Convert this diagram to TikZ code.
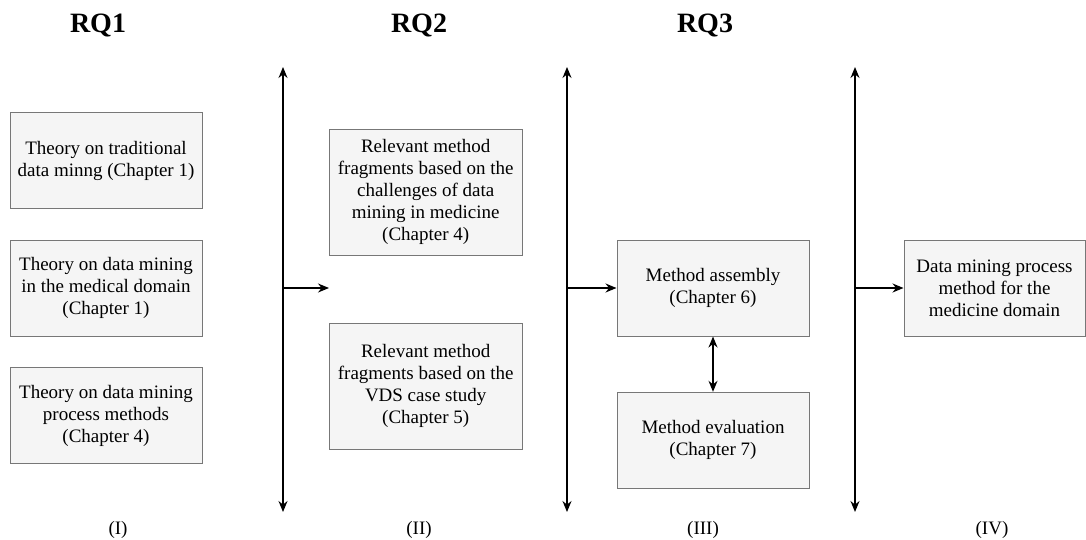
\documentclass[tikz,border=0pt]{standalone}
\usepackage{fontspec}
\setmainfont{Liberation Serif}
\usetikzlibrary{arrows.meta}
\definecolor{boxfill}{HTML}{F5F5F5}
\definecolor{boxline}{HTML}{777777}
\begin{document}
\begin{tikzpicture}[x=1pt,y=-1pt,
  box/.style={draw=boxline, fill=boxfill, line width=1pt, align=center,
    minimum width=192pt, minimum height=96pt, inner sep=2pt,
    font=\fontsize{19}{22}\selectfont},
  rq/.style={font=\fontsize{28}{32}\selectfont\bfseries},
  roman/.style={font=\fontsize{19}{22}\selectfont},
  link/.style={line width=1.3pt, -{Stealth[length=11pt,width=9pt]}},
  bilink/.style={line width=1.3pt, {Stealth[length=11pt,width=9pt]}-{Stealth[length=11pt,width=9pt]}}]
\useasboundingbox (0,0) rectangle (1086,540);

% headings
\node[rq] (rq1) at (98,26) {RQ1};
\node[rq] (rq2) at (419,26) {RQ2};
\node[rq] (rq3) at (705,26) {RQ3};

% column (I): theory
\node[box] (t1) at (106,160.7) {Theory on traditional\\data minng (Chapter 1)};
\node[box] (t2) at (106,288.3) {Theory on data mining\\in the medical domain\\(Chapter 1)};
\node[box] (t3) at (106,415.7) {Theory on data mining\\process methods\\(Chapter 4)};

% column (II): method fragments
\node[box, minimum width=193pt, minimum height=126pt] (f1) at (425.7,192.3)
  {Relevant method\\fragments based on the\\challenges of data\\mining in medicine\\(Chapter 4)};
\node[box, minimum width=193pt, minimum height=126pt] (f2) at (425.7,386.3)
  {Relevant method\\fragments based on the\\VDS case study\\(Chapter 5)};

% column (III): assembly and evaluation
\node[box] (ma) at (713,288) {Method assembly\\(Chapter 6)};
\node[box] (me) at (713,440.3) {Method evaluation\\(Chapter 7)};

% column (IV): result
\node[box, minimum width=181pt] (dm) at (994.5,288.3) {Data mining process\\method for the\\medicine domain};

% phase separators
\coordinate (s1t) at (283,67);  \coordinate (s1b) at (283,512);
\coordinate (s2t) at (567,67);  \coordinate (s2b) at (567,512);
\coordinate (s3t) at (855,67);  \coordinate (s3b) at (855,512);
\draw[bilink] (s1b) -- (s1t);
\draw[bilink] (s2b) -- (s2t);
\draw[bilink] (s3b) -- (s3t);

% flow between phases
\coordinate (s1m) at (283,288);
\coordinate (f0) at (329,288);
\coordinate (s2m) at (567,288);
\coordinate (s3m) at (855,288);
\draw[link] (s1m) -- (f0);
\draw[link] (s2m) -- (ma.west |- s2m);
\draw[link] (s3m) -- (dm.west |- s3m);
\draw[bilink] (ma.south) -- (me.north);

% phase labels
\node[roman] (p1) at (118,530) {(I)};
\node[roman] (p2) at (419,530) {(II)};
\node[roman] (p3) at (703,530) {(III)};
\node[roman] (p4) at (992,530) {(IV)};
\end{tikzpicture}
\end{document}
